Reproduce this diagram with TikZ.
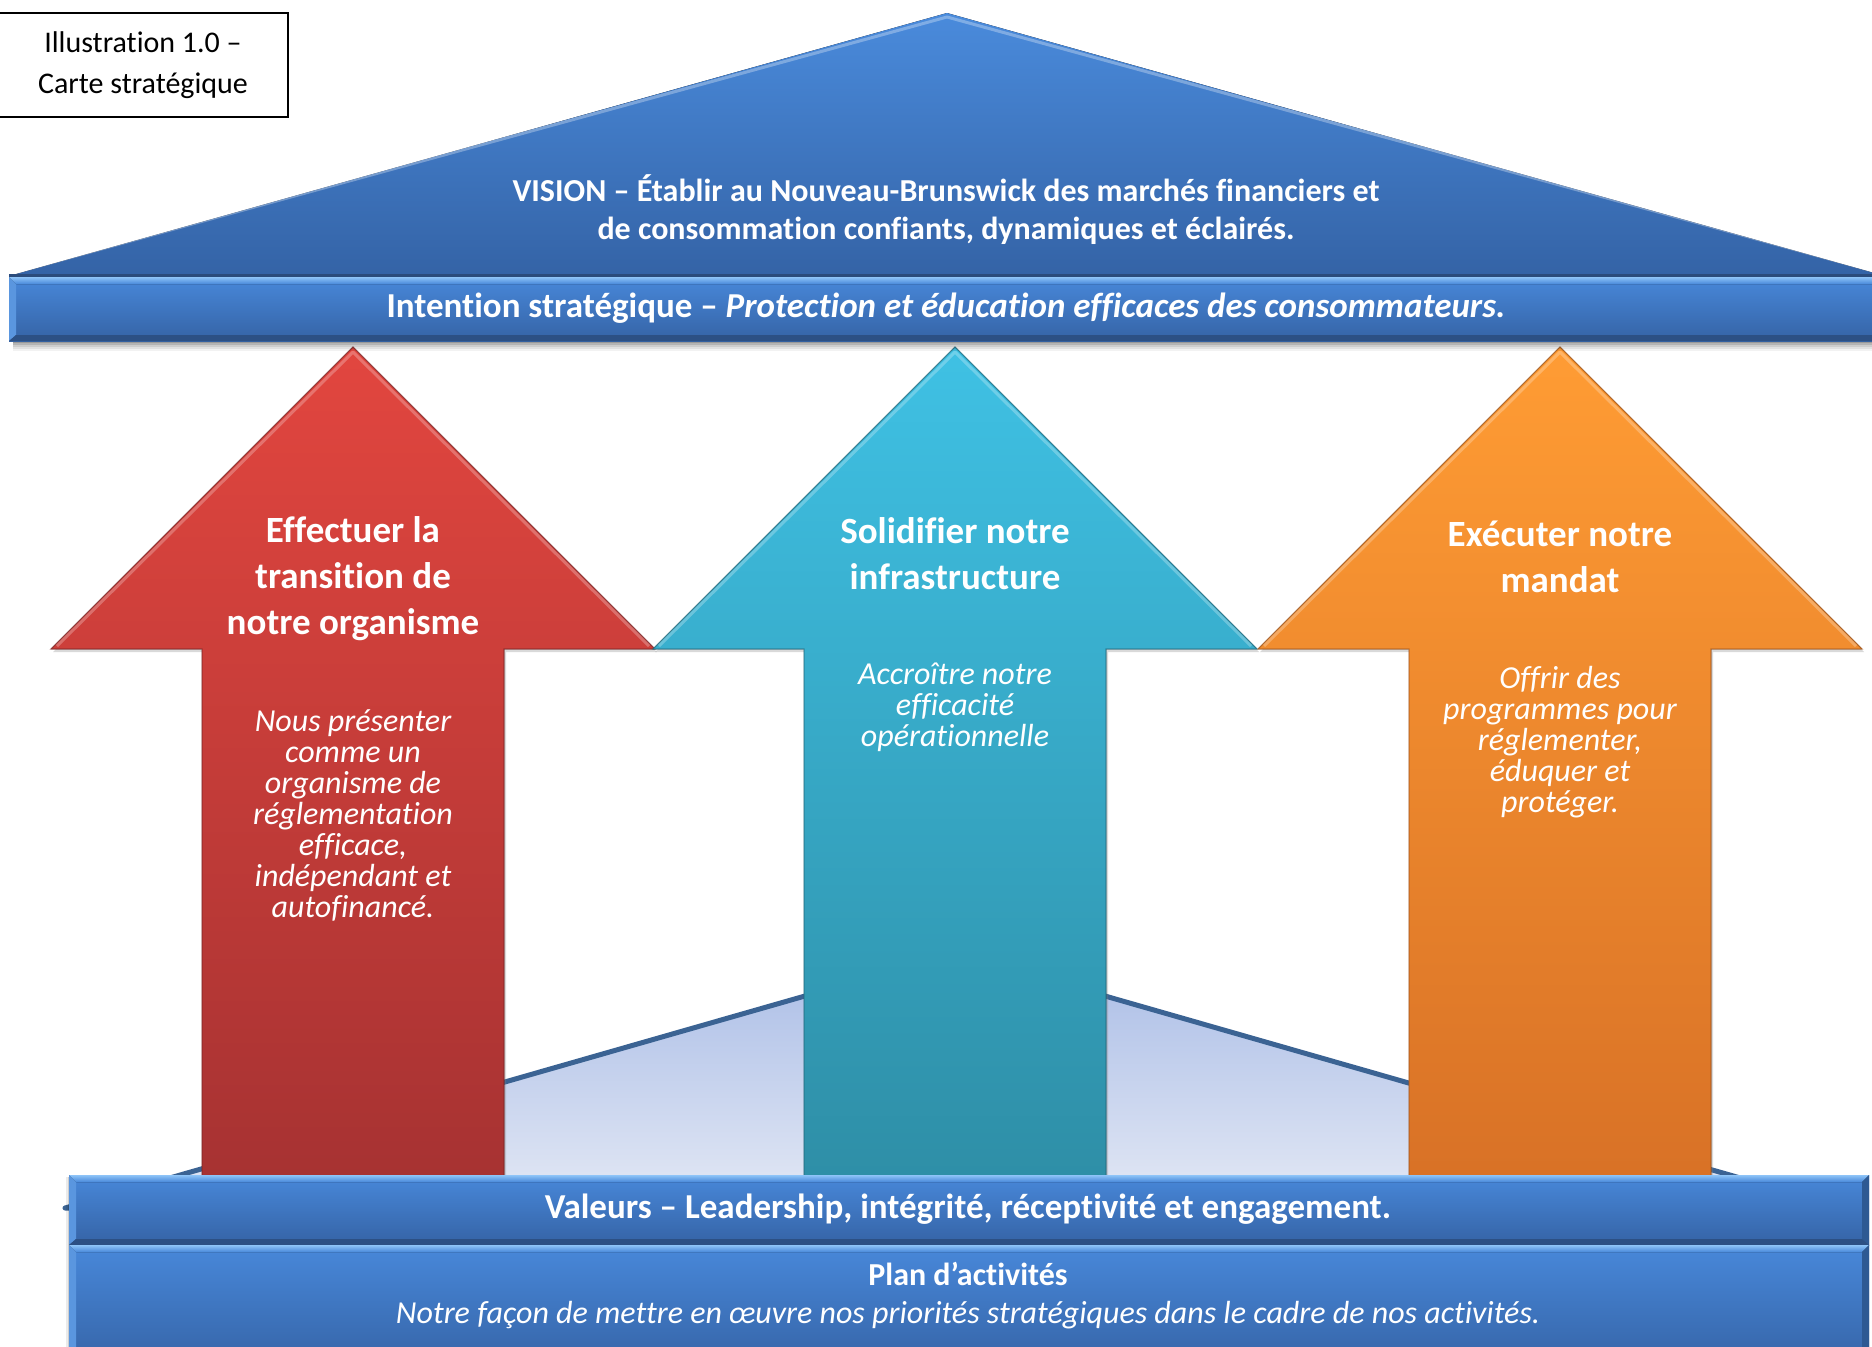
\documentclass[tikz,border=0pt]{standalone}
\usepackage{fontspec}
\setmainfont{Carlito}[Ligatures=NoCommon]
\usetikzlibrary{shadows}

% palette
\definecolor{roofTop}{HTML}{4A8BDC}
\definecolor{roofBot}{HTML}{3463A6}
\definecolor{roofEdge}{HTML}{2B4C7C}
\definecolor{barTop}{HTML}{4888DA}
\definecolor{barBot}{HTML}{3563A5}
\definecolor{bevHi}{HTML}{8EC4F8}
\definecolor{bevLeft}{HTML}{5A96DF}
\definecolor{bevRight}{HTML}{2E5993}
\definecolor{bevBot}{HTML}{2C5084}
\definecolor{redTop}{HTML}{E2463F}
\definecolor{redBot}{HTML}{A63232}
\definecolor{tealTop}{HTML}{3FC1E4}
\definecolor{tealBot}{HTML}{2E8EA6}
\definecolor{orTop}{HTML}{FF9C34}
\definecolor{orBot}{HTML}{D87126}
\definecolor{baseTop}{HTML}{A9BCE6}
\definecolor{baseBot}{HTML}{E4E9F5}
\definecolor{baseLine}{HTML}{3B6393}

% one upward pillar arrow centred on x = #1
\newcommand\stratarrow[3]{%
  \filldraw[pillar, top color=#2, bottom color=#3, draw=#3!75!black]
    (#1,347) -- ({#1+302},649) -- ({#1+151},649) -- ({#1+151},1190)
    -- ({#1-151},1190) -- ({#1-151},649) -- ({#1-302},649) -- cycle;
  \draw[white, opacity=.25, line width=3, line join=round]
    ({#1-296},646) -- (#1,352) -- ({#1+296},646);
}

% bevelled beam from (#1,#2) to (#3,#4)
\newcommand\bevelbar[4]{%
  \fill[top color=barTop, bottom color=barBot] (#1,#2) rectangle (#3,#4);
  \fill[top color=bevHi, bottom color=barTop]
    (#1,#2) -- (#3,#2) -- ({#3-7},{#2+7}) -- ({#1+7},{#2+7}) -- cycle;
  \fill[bevLeft] (#1,#2) -- ({#1+7},{#2+7}) -- ({#1+7},{#4-6}) -- (#1,#4) -- cycle;
  \fill[bevRight] (#3,#2) -- ({#3-7},{#2+7}) -- ({#3-7},{#4-6}) -- (#3,#4) -- cycle;
  \fill[bevBot] (#1,#4) -- ({#1+7},{#4-6}) -- ({#3-7},{#4-6}) -- (#3,#4) -- cycle;
}

\begin{document}
\begin{tikzpicture}[x=1pt, y=-1pt,
  txt/.style={text=white, align=center, inner sep=0pt},
  headline/.style={txt, font=\bfseries\fontsize{37}{46}\selectfont},
  subline/.style={txt, font=\itshape\fontsize{32}{31}\selectfont},
  bartext/.style={txt, font=\bfseries\fontsize{35}{38}\selectfont},
  pillar/.style={line width=1.2, draw opacity=.6,
    drop shadow={shadow xshift=2pt, shadow yshift=-3pt, opacity=.3}},
  titlebox/.style={draw=black, line width=1.3, fill=white, align=center,
    minimum width=290pt, minimum height=104pt, inner sep=0pt,
    font=\fontsize{30}{41}\selectfont}
]
\useasboundingbox (0,0) rectangle (1872,1347);
\clip (0,0) rectangle (1872,1347);

% foundation roof behind the pillars
\filldraw[top color=baseTop, bottom color=baseBot, draw=baseLine,
  line width=5, line join=round]
  (65,1208) -- (955,953) -- (1845,1208) -- cycle;

% the three pillars
\stratarrow{353}{redTop}{redBot}
\stratarrow{955}{tealTop}{tealBot}
\stratarrow{1560}{orTop}{orBot}

% vision roof
\fill[top color=roofTop, bottom color=roofBot] (9,276) -- (947,13) -- (1885,276) -- cycle;
\draw[white, opacity=.3, line width=3, line join=round] (14,273) -- (947,17) -- (1880,273);
\draw[roofEdge, line width=3] (9,275) -- (1885,275);

% soft shadow under the strategic intention beam
\foreach \d/\o in {10/.05, 8/.07, 6/.09, 4/.12, 2/.15}
  \fill[black, opacity=\o] (13,341) rectangle (1890,{341+\d});
% strategic intention beam
\bevelbar{9}{277}{1890}{341}

% values and business plan beams
\foreach \d/\o in {3/.08, 1.5/.12}
  \fill[black, opacity=\o] ({69-\d},1177) rectangle (69,1347);
\bevelbar{69}{1175}{1869}{1245}
\bevelbar{69}{1245}{1869}{1370}

% caption box
\node[titlebox] (caption) at (143,65) {Illustration 1.0 –\\Carte stratégique};

% texts
\node[txt, font=\bfseries\fontsize{32}{38}\selectfont] (vision) at (946,210)
  {VISION – Établir au Nouveau-Brunswick des marchés financiers et\\
   de consommation confiants, dynamiques et éclairés.};
\node[bartext] (intention) at (946,308.5)
  {Intention stratégique – \textit{Protection et éducation efficaces des consommateurs.}};

\node[headline] (h1) at (353,579) {Effectuer la\\transition de\\notre organisme};
\node[subline] (s1) at (353,815)
  {Nous présenter\\comme un\\organisme de\\réglementation\\efficace,\\indépendant et\\autofinancé.};

\node[headline] (h2) at (955,553.5) {Solidifier notre\\infrastructure};
\node[subline] (s2) at (955,707.5) {Accroître notre\\efficacité\\opérationnelle};

\node[headline] (h3) at (1560,556.5) {Exécuter notre\\mandat};
\node[subline] (s3) at (1560,742)
  {Offrir des\\programmes pour\\réglementer,\\éduquer et\\protéger.};

\node[bartext] (valeurs) at (968,1209.5)
  {Valeurs – Leadership, intégrité, réceptivité et engagement.};
\node[txt, font=\bfseries\fontsize{32}{38}\selectfont] (plan) at (968,1274) {Plan d’activités};
\node[txt, font=\itshape\fontsize{32}{38}\selectfont] (planline) at (968,1315)
  {Notre façon de mettre en œuvre nos priorités stratégiques dans le cadre de nos activités.};
\end{tikzpicture}
\end{document}
